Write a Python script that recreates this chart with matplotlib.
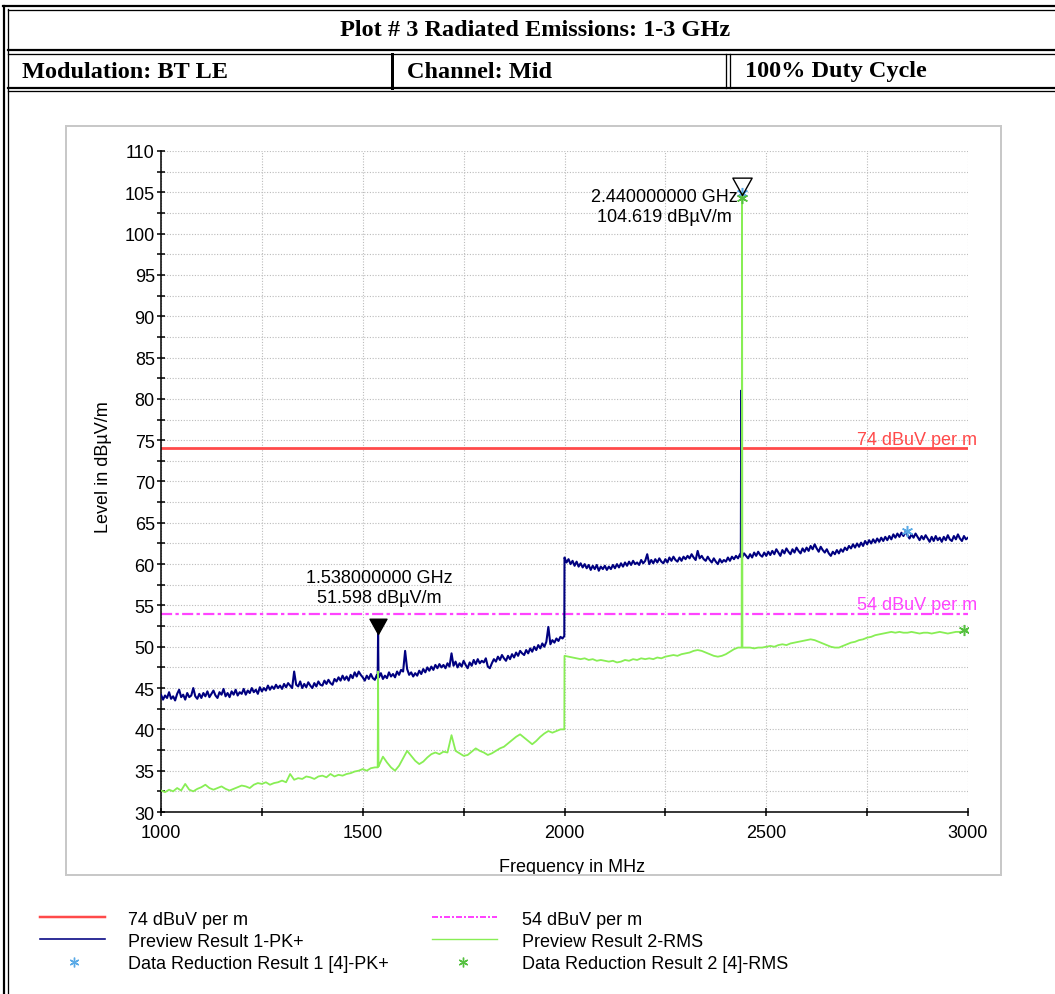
import numpy as np
import matplotlib
matplotlib.use("Agg")
import matplotlib.pyplot as plt
from matplotlib.lines import Line2D
from matplotlib.patches import Rectangle
from matplotlib.path import Path
from matplotlib.ticker import MultipleLocator

W, H = 1055, 995

# header table texts
title = "Plot # 3 Radiated Emissions: 1-3 GHz"
cells = ["Modulation: BT LE", "Channel: Mid", "100% Duty Cycle"]

# limit lines
limit_pk = 74
limit_rms = 54
limit_pk_label = "74 dBuV per m"
limit_rms_label = "54 dBuV per m"

# peak trace, 5 MHz steps 1000..3000 MHz (one line = 100 MHz)
pk_freq = np.arange(1000, 3001, 5)
pk_level = [
    44.2, 43.6, 44.1, 43.8, 44.5, 43.7, 44.0, 43.5, 44.3, 44.8, 43.9, 44.2, 43.6, 44.4, 43.9, 44.1, 45.0, 44.0, 43.7, 44.3,
    43.8, 44.4, 44.0, 44.6, 43.9, 44.3, 44.7, 44.1, 43.8, 44.5, 44.2, 44.9, 44.0, 44.4, 43.9, 44.6, 44.2, 44.8, 44.1, 44.5,
    44.3, 44.9, 44.2, 44.7, 44.4, 45.0, 44.5, 44.8, 44.3, 45.1, 44.6, 45.0, 44.7, 45.3, 44.8, 45.2, 44.9, 45.4, 45.0, 45.3,
    44.9, 45.5, 45.1, 45.6, 45.3, 45.0, 47.0, 45.4, 45.2, 45.8, 45.0, 45.5, 45.1, 45.7, 45.3, 45.0, 45.6, 45.2, 45.8, 45.4,
    45.3, 45.9, 45.5, 46.0, 45.6, 45.4, 46.1, 45.8, 46.3, 45.9, 46.5, 46.0, 46.4, 45.9, 46.6, 46.2, 46.9, 46.4, 47.0, 46.6,
    46.3, 45.9, 46.5, 46.1, 46.7, 46.2, 46.0, 46.6, 46.3, 46.8, 46.1, 46.5, 46.2, 46.9, 46.4, 46.7, 46.3, 47.0, 46.6, 47.2,
    47.0, 49.5, 47.3, 46.6, 46.9, 46.4, 46.8, 46.5, 47.1, 46.7, 47.3, 46.9, 47.5, 47.1, 47.6, 47.2, 47.8, 47.4, 47.9, 47.5,
    47.8, 47.4, 48.0, 47.6, 49.2, 47.7, 48.2, 47.5, 48.0, 47.6, 48.3, 47.8, 47.4, 48.1, 47.7, 48.4, 47.9, 48.5, 48.0, 48.3,
    48.1, 48.6, 47.6, 47.4, 48.0, 48.5, 48.2, 48.8, 48.4, 49.0, 48.6, 48.3, 48.9, 48.5, 49.1, 48.7, 49.3, 48.9, 49.5, 49.2,
    49.0, 49.6, 49.2, 49.8, 49.4, 50.0, 49.6, 50.2, 49.8, 50.4, 50.0, 50.6, 52.4, 50.3, 50.8, 50.5, 51.0, 50.7, 51.2, 51.0,
    60.8, 60.2, 60.6, 60.0, 60.4, 59.8, 60.3, 59.7, 60.1, 59.6, 60.0, 59.5, 59.9, 59.3, 59.8, 59.4, 59.9, 59.2, 59.7, 59.4,
    59.8, 59.3, 59.7, 59.4, 59.9, 59.5, 60.0, 59.6, 60.1, 59.7, 60.2, 59.8, 60.3, 59.9, 60.4, 60.0, 60.2, 59.9, 60.5, 60.1,
    60.4, 61.2, 60.0, 60.5, 60.1, 60.6, 60.2, 60.7, 60.3, 60.1, 60.6, 60.2, 60.8, 60.4, 60.9, 60.5, 60.3, 60.8, 60.4, 60.9,
    60.6, 61.0, 60.7, 61.2, 60.8, 60.5, 61.6, 60.7, 61.0, 60.6, 60.4, 60.9, 60.5, 60.2, 60.7, 60.3, 60.0, 60.6, 60.2, 60.5,
    60.3, 60.8, 60.4, 60.9, 60.6, 61.0, 60.7, 61.2, 60.8, 61.3, 61.0, 60.7, 61.2, 60.8, 61.4, 61.0, 61.5, 61.1, 60.9, 61.4,
    61.0, 61.5, 61.1, 61.6, 61.2, 61.8, 61.4, 61.0, 61.7, 61.3, 61.9, 61.5, 61.2, 61.8, 61.4, 62.0, 61.6, 61.3, 61.9, 61.5,
    62.0, 61.6, 62.2, 61.8, 62.4, 61.9, 61.5, 62.1, 61.7, 61.4, 61.8, 61.3, 61.0, 61.5, 61.2, 61.7, 61.3, 61.8, 61.5, 62.0,
    61.7, 62.2, 61.9, 62.4, 62.0, 62.5, 62.1, 62.6, 62.2, 62.8, 62.4, 62.9, 62.5, 63.0, 62.6, 63.1, 62.7, 63.2, 62.8, 63.3,
    62.9, 63.4, 63.0, 63.6, 63.2, 63.7, 63.3, 63.8, 63.4, 63.9, 63.5, 63.1, 63.6, 63.2, 63.7, 63.3, 62.9, 63.4, 63.0, 63.5,
    63.1, 62.7, 63.3, 62.8, 63.4, 62.9, 63.2, 62.7, 63.3, 62.9, 63.5, 63.0, 62.8, 63.4, 63.0, 63.6, 63.1, 62.8, 63.4, 63.0,
    63.2,
]
# narrow spikes / step edges of the peak trace
pk_extra_freq = [1537, 1538, 1539, 1999.5, 2437, 2438, 2439]
pk_extra_level = [46.2, 51.6, 46.4, 51.3, 60.9, 81.0, 60.9]

# rms trace, 10 MHz steps 1000..3000 MHz (one line = 100 MHz)
rms_freq = np.arange(1000, 3001, 10)
rms_level = [
    32.6, 32.4, 32.7, 32.5, 32.9, 32.6, 33.4, 32.7, 32.5, 32.8,
    33.0, 33.3, 32.9, 32.7, 32.9, 33.1, 32.8, 32.6, 32.8, 33.0,
    33.2, 33.1, 32.9, 33.3, 33.5, 33.4, 33.6, 33.3, 33.5, 33.6,
    33.8, 33.6, 34.6, 33.9, 34.1, 34.0, 34.3, 34.2, 34.0, 34.3,
    34.4, 34.2, 34.6, 34.3, 34.5, 34.4, 34.6, 34.7, 34.9, 35.0,
    35.2, 35.0, 35.3, 35.4, 35.6, 36.7, 36.0, 35.4, 35.0, 35.6,
    36.5, 37.4, 36.8, 36.2, 35.8, 36.1, 36.6, 37.0, 37.2, 37.0,
    37.3, 37.2, 39.3, 37.4, 37.1, 36.8, 36.9, 37.3, 37.7, 37.4,
    37.2, 36.9, 37.1, 37.4, 37.7, 37.9, 38.3, 38.7, 39.1, 39.4,
    39.0, 38.6, 38.2, 38.6, 39.1, 39.5, 39.8, 39.6, 39.8, 40.0,
    48.9, 48.8, 48.7, 48.6, 48.5, 48.6, 48.4, 48.5, 48.3, 48.4,
    48.3, 48.2, 48.3, 48.1, 48.2, 48.4, 48.3, 48.5, 48.4, 48.6,
    48.5, 48.6, 48.5, 48.7, 48.6, 48.8, 48.9, 49.0, 48.9, 49.1,
    49.2, 49.3, 49.5, 49.6, 49.5, 49.3, 49.1, 48.9, 48.8, 48.9,
    49.1, 49.4, 49.7, 49.9, 104.6, 49.9, 49.9, 49.8, 49.9, 49.9,
    50.0, 50.1, 50.0, 50.2, 50.3, 50.2, 50.4, 50.5, 50.6, 50.7,
    50.8, 50.9, 50.8, 50.6, 50.4, 50.2, 50.0, 49.9, 49.9, 50.1,
    50.3, 50.5, 50.6, 50.8, 50.9, 51.1, 51.2, 51.4, 51.5, 51.6,
    51.7, 51.8, 51.7, 51.8, 51.7, 51.7, 51.8, 51.7, 51.6, 51.7,
    51.7, 51.6, 51.7, 51.8, 51.7, 51.6, 51.7, 51.8, 51.8, 51.9,
    52.0,
]
rms_extra_freq = [1537, 1538, 1539, 1999.5, 2439, 2441]
rms_extra_level = [35.4, 47.0, 35.5, 40.0, 49.9, 49.9]

# data reduction results
red_pk_freq = [2440, 2850]
red_pk_level = [104.9, 64.0]
red_rms_freq = [2440, 2990]
red_rms_level = [104.3, 52.0]

# markers
mk1_freq, mk1_level, mk1_text = 1538, 51.598, "1.538000000 GHz\n51.598 dBµV/m"
mk2_freq, mk2_level, mk2_text = 2440, 104.619, "2.440000000 GHz\n104.619 dBµV/m"

legend_labels = ["74 dBuV per m", "54 dBuV per m",
                 "Preview Result 1-PK+", "Preview Result 2-RMS",
                 "Data Reduction Result 1 [4]-PK+", "Data Reduction Result 2 [4]-RMS"]

RED = "#FF4A4A"
MAGENTA = "#FF44FF"
NAVY = "#000080"
GREEN = "#88EE55"
LBLUE = "#5AAAE6"
DGREEN = "#55C040"
SANS = "Liberation Sans"
SERIF = "Liberation Serif"
PX = 0.72  # one pixel in points at dpi 100


def merge(freq, level, efreq, elevel):
    f = np.concatenate([np.asarray(freq, float), np.asarray(efreq, float)])
    v = np.concatenate([np.asarray(level, float), np.asarray(elevel, float)])
    order = np.argsort(f, kind="stable")
    return f[order], v[order]


def fx(x):
    return x / W


def fy(y):
    return 1 - y / H


def fig_line(fig, xs, ys, lw, color="black", **kw):
    fig.add_artist(Line2D([fx(x) for x in xs], [fy(y) for y in ys], color=color,
                          lw=lw * PX, transform=fig.transFigure, **kw))


fig = plt.figure(figsize=(W / 100, H / 100), dpi=100)

#---------------------------------------------------------------------------
# table around the plot
#---------------------------------------------------------------------------
fig_line(fig, [3.5, 3.5], [7, H], 2.2)
fig_line(fig, [8, 8], [10, H], 1.3)
fig_line(fig, [3, W], [7, 7], 2.2)
fig_line(fig, [8, W], [10.5, 10.5], 1.3)
fig_line(fig, [8, W], [51, 51], 2.2)
fig_line(fig, [8, W], [54.5, 54.5], 1.3)
fig_line(fig, [8, W], [88.5, 88.5], 2.2)
fig_line(fig, [8, W], [91.5, 91.5], 1.3)
fig_line(fig, [391.5, 391.5], [54.5, 88.5], 3)
fig_line(fig, [726, 726], [54.5, 88.5], 1.3)
fig_line(fig, [729.5, 729.5], [54.5, 88.5], 1.3)

fig.text(fx(535), fy(31), title, ha="center", va="center", fontsize=17.5,
         fontweight="bold", family=SERIF)
for x, t in zip([22, 407, 745], cells):
    fig.text(fx(x), fy(72), t, ha="left", va="center", fontsize=17.5,
             fontweight="bold", family=SERIF)

#---------------------------------------------------------------------------
# plot
#---------------------------------------------------------------------------
ax = fig.add_axes([fx(161), fy(813), fx(968) - fx(161), fy(152) - fy(813)])
ax.set_xlim(1000, 3000)
ax.set_ylim(30, 110)
ax.xaxis.set_major_locator(MultipleLocator(500))
ax.xaxis.set_minor_locator(MultipleLocator(250))
ax.yaxis.set_major_locator(MultipleLocator(5))
ax.yaxis.set_minor_locator(MultipleLocator(2.5))
ax.grid(True, which="both", color="#BBBBBB", lw=0.8, ls=(0, (1, 1.5)))
ax.set_axisbelow(True)
for s in ["top", "right"]:
    ax.spines[s].set_visible(False)
for s in ["left", "bottom"]:
    ax.spines[s].set_linewidth(1.1)
ax.tick_params(which="both", direction="inout", length=6, width=1.1)
ax.tick_params(axis="y", which="both", pad=1.5, labelsize=13)
ax.tick_params(axis="x", which="both", pad=6, labelsize=13)
for lab in ax.get_xticklabels() + ax.get_yticklabels():
    lab.set_family(SANS)

ax.axhline(limit_pk, color=RED, lw=2, zorder=2)
ax.axhline(limit_rms, color=MAGENTA, lw=1.6, dashes=(5, 1.5, 1.5, 1.5), zorder=2)

f, v = merge(pk_freq, pk_level, pk_extra_freq, pk_extra_level)
ax.plot(f, v, color=NAVY, lw=1.5, zorder=3)
f, v = merge(rms_freq, rms_level, rms_extra_freq, rms_extra_level)
ax.plot(f, v, color=GREEN, lw=1.3, zorder=4)

ax.plot(red_pk_freq, red_pk_level, ls="none", marker=(6, 2, 0), ms=8, mew=1.1,
        color=LBLUE, zorder=5)
ax.plot(red_rms_freq, red_rms_level, ls="none", marker=(6, 2, 0), ms=8, mew=1.1,
        color=DGREEN, zorder=5)

# triangle marker with its tip on the data point
tri = Path([(-1, 1.8), (1, 1.8), (0, 0), (-1, 1.8)],
           [Path.MOVETO, Path.LINETO, Path.LINETO, Path.CLOSEPOLY])
ax.plot([mk1_freq], [mk1_level], ls="none", marker=tri, ms=22, mfc="black",
        mec="black", zorder=6, clip_on=False)
ax.plot([mk2_freq], [mk2_level], ls="none", marker=tri, ms=25, mfc="none",
        mec="black", mew=1, zorder=6, clip_on=False)

ax.text(1541.5, 57.2, mk1_text, ha="center", va="center", fontsize=13,
        family=SANS, zorder=7)
ax.text(2246.5, 103.3, mk2_text, ha="center", va="center", fontsize=13,
        family=SANS, zorder=7)

ax.annotate(limit_pk_label, (3000, limit_pk), xytext=(6.5, 0.5),
            textcoords="offset points", ha="right", va="bottom", fontsize=13,
            color=RED, family=SANS, annotation_clip=False)
ax.annotate(limit_rms_label, (3000, limit_rms), xytext=(6.5, 0.5),
            textcoords="offset points", ha="right", va="bottom", fontsize=13,
            color=MAGENTA, family=SANS, annotation_clip=False)

fig.text(fx(103), fy(467), "Level in dBµV/m", rotation=90, ha="center",
         va="center", fontsize=13, family=SANS)
fig.text(fx(572), fy(868), "Frequency in MHz", ha="center", va="center",
         fontsize=13, family=SANS)

# white strip cuts off the x label like in the report, then the gray frame
fig.add_artist(Rectangle((fx(60), fy(905)), fx(1010) - fx(60), fy(876) - fy(905),
                         transform=fig.transFigure, facecolor="white",
                         edgecolor="none", zorder=8))
fig.add_artist(Rectangle((fx(66), fy(876)), fx(1001) - fx(66), fy(127) - fy(876),
                         transform=fig.transFigure, facecolor="none",
                         edgecolor="#C8C8C8", lw=2 * PX, zorder=9))

#---------------------------------------------------------------------------
# legend below the plot
#---------------------------------------------------------------------------
fig_line(fig, [40, 105], [918, 918], 2.5, color=RED)
fig_line(fig, [432, 497], [918, 918], 2, color=MAGENTA, dashes=(3, 1, 1, 1))
fig_line(fig, [40, 105], [940, 940], 1.6, color=NAVY)
fig_line(fig, [432, 497], [940, 940], 1.4, color=GREEN)
fig.add_artist(Line2D([fx(74)], [fy(963)], ls="none", marker=(6, 2, 0), ms=7,
                      mew=1, color=LBLUE, transform=fig.transFigure))
fig.add_artist(Line2D([fx(463)], [fy(963)], ls="none", marker=(6, 2, 0), ms=7,
                      mew=1, color=DGREEN, transform=fig.transFigure))

rows = [921, 921, 943, 943, 965, 965]
cols = [128, 522, 128, 522, 128, 522]
for x, y, t in zip(cols, rows, legend_labels):
    fig.text(fx(x), fy(y), t, ha="left", va="center", fontsize=13, family=SANS)

fig.savefig("out.png", dpi=100)
